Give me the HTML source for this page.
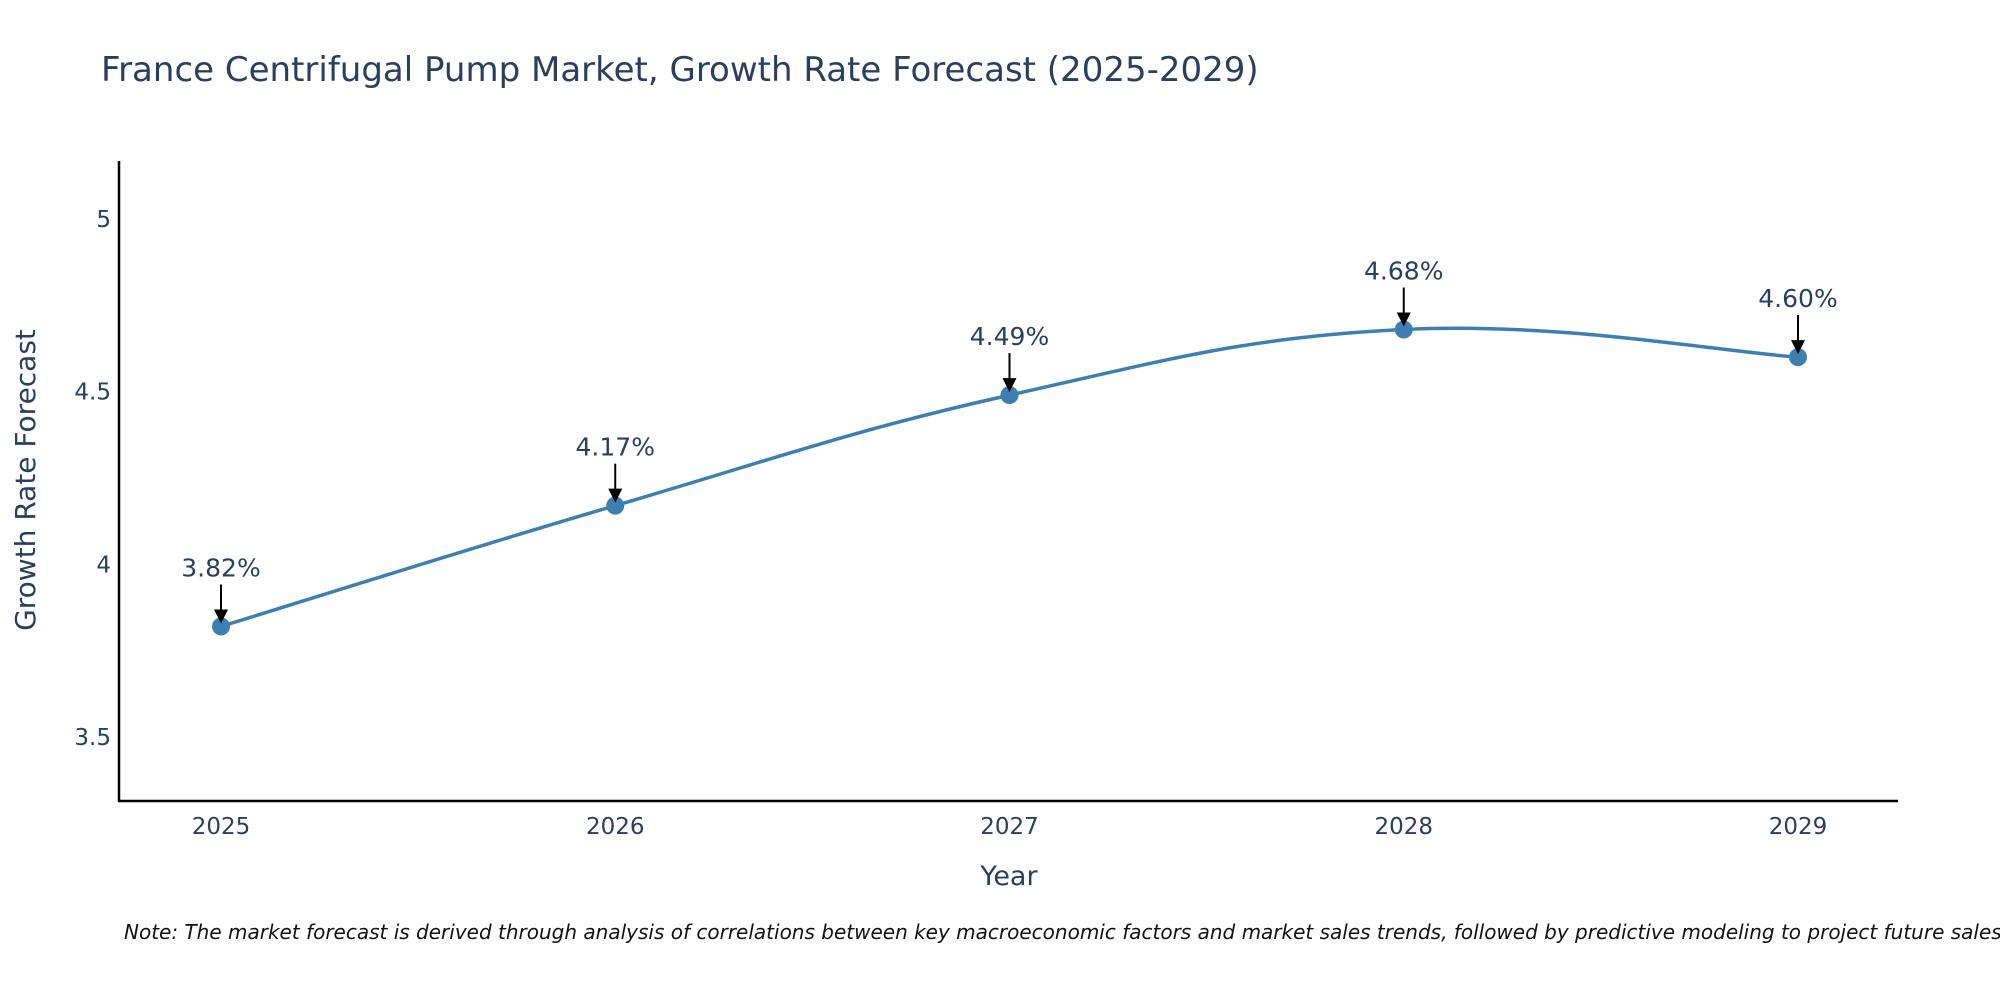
<!DOCTYPE html>
<html><head><meta charset="utf-8"><style>
html,body{margin:0;padding:0;background:#fff}
svg{display:block;font-family:"DejaVu Sans","Liberation Sans",sans-serif}
</style></head><body>
<svg id="chart" width="2000" height="1000" viewBox="0 0 2000 1000" xmlns="http://www.w3.org/2000/svg">
<text x="101" y="81" font-size="34" fill="#2a3f5f">France Centrifugal Pump Market, Growth Rate Forecast (2025-2029)</text>
<g id="axes"></g>
<g id="series"></g>
<text x="1009" y="885" font-size="27" fill="#2a3f5f" text-anchor="middle">Year</text>
<text transform="translate(35,480) rotate(-90)" font-size="28" fill="#2a3f5f" text-anchor="middle">Growth Rate Forecast</text>
<text x="124" y="939" font-size="20" font-style="italic" fill="#111">Note: The market forecast is derived through analysis of correlations between key macroeconomic factors and market sales trends, followed by predictive modeling to project future sales.</text>
</svg>
<script>
const categories = [2025, 2026, 2027, 2028, 2029];
const values = [3.82, 4.17, 4.49, 4.68, 4.60];
const labels = ["3.82%", "4.17%", "4.49%", "4.68%", "4.60%"];
const yTicks = [3.5, 4, 4.5, 5];
const yTickLabels = ["3.5", "4", "4.5", "5"];

const NS = "http://www.w3.org/2000/svg";
const plotL = 119, plotR = 1898, plotT = 161, plotB = 801;
function xScale(c){ return 221 + (c - 2025) * (1798 - 221) / 4; }
function yScale(v){ return 219 + (5 - v) * (737 - 219) / 1.5; }
function mk(tag, attrs, parent){ const e = document.createElementNS(NS, tag); for (const k in attrs) e.setAttribute(k, attrs[k]); parent.appendChild(e); return e; }

const axes = document.getElementById("axes");
const yAxis = mk("line", {x1: plotL, y1: plotT, x2: plotL, y2: plotB + 1, stroke: "#000", "stroke-width": 2.5}, axes);


const xAxis = mk("line", {x1: plotL - 1, y1: plotB, x2: plotR, y2: plotB, stroke: "#000", "stroke-width": 2.5}, axes);


yTicks.forEach((t, i) => {
  const el = mk("text", {x: 111, y: yScale(t) + 8, "font-size": 23, fill: "#2a3f5f", "text-anchor": "end"}, axes);
  el.textContent = yTickLabels[i];
  
  
});
categories.forEach(c => {
  const el = mk("text", {x: xScale(c), y: 834, "font-size": 23, fill: "#2a3f5f", "text-anchor": "middle"}, axes);
  el.textContent = String(c);
  
  
});

const series = document.getElementById("series");
const pts = categories.map((c, i) => [xScale(c), yScale(values[i])]);
let d = "M" + pts[0][0] + "," + pts[0][1];
const s = 0.2;
for (let i = 0; i < pts.length - 1; i++) {
  const p0 = pts[Math.max(0, i - 1)], p1 = pts[i], p2 = pts[i + 1], p3 = pts[Math.min(pts.length - 1, i + 2)];
  const c1x = p1[0] + (p2[0] - p0[0]) * s, c1y = p1[1] + (p2[1] - p0[1]) * s;
  const c2x = p2[0] - (p3[0] - p1[0]) * s, c2y = p2[1] - (p3[1] - p1[1]) * s;
  d += " C" + c1x + "," + c1y + " " + c2x + "," + c2y + " " + p2[0] + "," + p2[1];
}
const line = mk("path", {d: d, fill: "none", stroke: "#3d7fb0", "stroke-width": 3.5}, series);


pts.forEach((p, i) => {
  const m = mk("circle", {cx: p[0], cy: p[1], r: 9, fill: "#3d7fb0"}, series);
  
  
  const a = mk("line", {x1: p[0], y1: p[1] - 42, x2: p[0], y2: p[1] - 14, stroke: "#000", "stroke-width": 2}, series);
  
  
  const h = mk("polygon", {points: (p[0]-7)+","+(p[1]-17)+" "+(p[0]+7)+","+(p[1]-17)+" "+p[0]+","+(p[1]-3), fill: "#000"}, series);
  
  
  const t = mk("text", {x: p[0], y: p[1] - 50, "font-size": 25, fill: "#2a3f5f", "text-anchor": "middle"}, series);
  t.textContent = labels[i];
  
  
});
</script>
</body></html>
